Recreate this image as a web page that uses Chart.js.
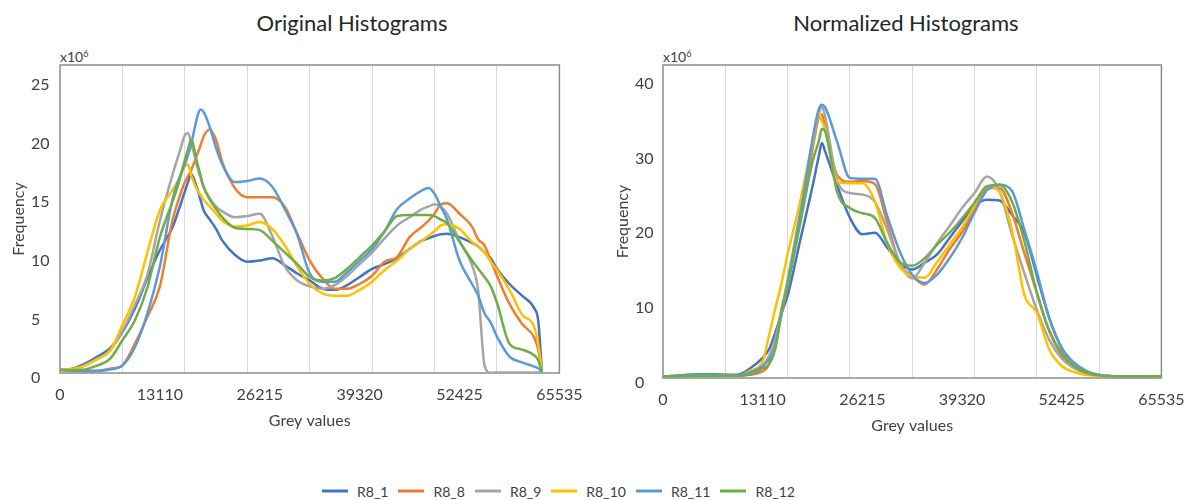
<!DOCTYPE html>
<html><head><meta charset="utf-8">
<script src="https://cdn.jsdelivr.net/npm/chart.js@4.4.1/dist/chart.umd.min.js"></script>
<style>
html,body{margin:0;padding:0;background:#fff;}
body{width:1197px;height:500px;position:relative;overflow:hidden;font-family:Lato,"Open Sans",sans-serif;color:#404040;}
.title{position:absolute;top:22px;transform:translate(-50%,-50%);font-size:22px;color:#262626;white-space:nowrap;}
.exp{position:absolute;top:50px;font-size:14px;line-height:14px;color:#404040;}
.exp sup{font-size:9px;vertical-align:5px;line-height:0;}
#c1{position:absolute;left:0;top:0;}
#c2{position:absolute;left:598px;top:0;}
#legend{position:absolute;left:322px;top:491px;transform:translateY(-50%);display:flex;align-items:center;font-size:14px;color:#404040;white-space:nowrap;}
#legend .sw{display:inline-block;width:26px;height:3px;margin-right:9px;}
#legend .lt{margin-right:10px;}
</style>
</head><body>
<div class="title" style="left:352px">Original Histograms</div>
<div class="title" style="left:906px">Normalized Histograms</div>
<div class="exp" style="left:60px">x10<sup>6</sup></div>
<div class="exp" style="left:663px">x10<sup>6</sup></div>
<canvas id="c1" width="595" height="440"></canvas>
<canvas id="c2" width="599" height="440"></canvas>
<div id="legend"></div>
<script>
const seriesNames = ['R8_1','R8_8','R8_9','R8_10','R8_11','R8_12'];
const seriesColors = ['#4472C4','#ED7D31','#A5A5A5','#FFC000','#5B9BD5','#70AD47'];

const xTickValues = [0,13110,26215,39320,52425,65535];
const xTickLabels = ['0','13110','26215','39320','52425','65535'];
const xGridValues = [8192,16384,24576,32768,40960,49152,57344];

const origYTicks = [0,5,10,15,20,25];
const origYLabels = ['0','5','10','15','20','25'];
const normYTicks = [0,10,20,30,40];
const normYLabels = ['0','10','20','30','40'];

// Original histograms (values x10^6)
const origX = [0,1638,3277,4915,6554,8192,9830,11469,13107,14746,15565,16384,16794,17203,18022,18432,18842,19661,20480,21299,22938,24576,26214,27853,29491,31130,32768,34406,36045,37683,39322,40960,42598,44237,45875,47514,48333,49152,49971,50790,52429,54067,54886,55706,56525,57344,58982,60621,62259,62751,63242];
const orig_R8_1  = [0.3,0.37,0.8,1.4,2.1,3.5,5.5,8.1,10.5,12.4,13.9,15.5,16.3,17.0,15.7,14.8,13.9,13.1,12.3,11.3,10.1,9.5,9.6,9.8,9.2,8.5,7.9,7.2,7.1,7.5,8.2,8.9,9.3,9.8,10.6,11.3,11.5,11.7,11.85,11.9,11.6,11.1,10.8,10.3,9.8,8.9,7.6,6.6,5.5,4.5,0.2];
const orig_R8_8  = [0.25,0.2,0.2,0.2,0.37,0.65,2.5,4.8,7.4,13.0,14.8,16.3,16.8,17.3,18.7,19.4,20.2,20.8,19.9,18.0,15.8,15.0,15.0,15.0,14.2,11.9,9.6,8.1,7.2,7.2,7.6,8.3,9.5,9.9,11.6,12.5,13.0,13.6,14.4,14.5,13.6,12.5,11.4,10.9,9.6,8.3,5.9,4.2,3.0,2.0,0.1];
const orig_R8_9  = [0.3,0.3,0.65,1.2,1.9,3.6,5.8,8.4,13.0,16.9,18.6,20.3,20.5,19.7,17.6,16.7,15.9,14.9,14.2,13.8,13.3,13.4,13.6,11.7,9.1,7.9,7.4,7.2,7.5,8.3,9.3,10.3,11.5,12.6,13.3,14.0,14.2,14.4,14.2,13.6,11.3,9.2,7.0,0.65,0.02,0.05,0.05,0.05,0.05,0.05,0.05];
const orig_R8_10 = [0.3,0.35,0.65,1.2,1.9,4.1,6.5,10.3,13.9,15.6,16.5,17.7,17.8,16.9,15.6,15.2,14.8,14.2,13.6,13.0,12.5,12.6,12.9,12.3,10.9,9.1,7.6,6.8,6.6,6.6,7.1,7.8,8.8,9.6,10.6,11.3,11.7,12.1,12.6,12.7,12.3,11.2,10.8,10.3,9.5,8.8,7.1,5.0,3.9,2.5,0.2];
const orig_R8_11 = [0.25,0.2,0.15,0.17,0.3,0.65,2.2,5.1,9.1,14.8,16.5,17.8,18.6,19.5,21.9,22.5,22.3,21.0,19.2,17.8,16.3,16.4,16.6,15.9,14.0,11.8,8.5,7.8,7.8,8.6,9.6,10.6,12.1,14.0,14.9,15.6,15.8,15.3,14.2,13.1,9.6,7.6,6.6,5.1,4.3,3.1,1.4,0.9,0.55,0.4,0.1];
const orig_R8_12 = [0.25,0.25,0.3,0.65,1.2,2.8,4.5,7.3,11.6,14.6,16.2,18.2,19.1,19.9,17.9,16.9,15.9,14.8,14.0,13.3,12.4,12.3,12.2,11.3,10.3,9.3,8.2,7.9,8.1,8.9,9.9,10.9,12.1,13.4,13.5,13.5,13.5,13.4,13.1,12.8,11.2,9.6,8.9,8.2,7.4,6.0,2.5,2.0,1.5,1.1,0.1];

// Normalized histograms (values x10^6)
const normX = [0,1638,3277,4915,6554,8192,9830,11469,13107,13926,14746,15565,16384,18022,19661,20480,20890,21299,22938,24576,26214,27853,29491,31130,32768,34406,36045,37683,39322,40960,42598,44237,45875,47514,49152,50790,52429,54067,55706,57344,58982,62259,65535];
const norm_R8_1  = [0.2,0.3,0.45,0.5,0.5,0.45,0.45,1.3,2.7,3.8,6.0,8.6,11.0,18.3,25.6,29.6,31.4,30.3,25.6,21.4,19.2,19.4,17.4,15.4,14.5,15.4,16.5,18.7,20.9,23.0,23.8,23.7,21.8,19.4,13.7,8.0,4.0,2.0,0.9,0.4,0.25,0.2,0.2];
const norm_R8_8  = [0.2,0.25,0.3,0.35,0.35,0.3,0.3,0.45,0.9,1.8,4.9,8.5,12.3,21.2,30.5,34.8,35.2,33.6,27.0,26.2,26.3,25.9,20.7,15.3,13.6,12.5,14.5,17.2,19.5,22.5,25.2,25.4,22.1,16.7,11.4,6.3,3.0,1.4,0.6,0.35,0.25,0.2,0.2];
const norm_R8_9  = [0.2,0.25,0.3,0.35,0.35,0.3,0.3,0.65,1.6,2.9,5.1,9.1,13.1,22.1,31.2,35.2,36.3,35.0,26.3,24.7,24.5,23.5,19.8,15.5,13.3,15.4,18.0,20.3,22.7,24.7,26.9,25.0,19.2,14.0,9.1,5.1,2.6,1.3,0.6,0.35,0.25,0.2,0.2];
const norm_R8_10 = [0.2,0.25,0.3,0.35,0.35,0.3,0.3,1.0,2.2,5.6,9.2,12.6,16.5,23.5,31.6,35.4,34.3,33.3,26.2,26.0,26.0,23.6,18.0,14.8,13.6,13.4,15.5,17.8,20.1,23.0,25.6,24.8,19.8,11.1,8.7,3.8,1.6,0.8,0.4,0.3,0.2,0.2,0.2];
const norm_R8_11 = [0.2,0.3,0.4,0.45,0.45,0.4,0.35,0.75,1.6,2.5,4.1,8.4,12.6,21.6,31.9,35.9,36.5,36.2,31.4,26.7,26.6,26.6,21.6,16.9,13.8,12.7,13.8,16.0,18.7,22.1,25.1,25.8,25.0,19.8,14.2,8.0,4.0,2.0,0.9,0.4,0.25,0.2,0.2];
const norm_R8_12 = [0.2,0.2,0.25,0.3,0.3,0.3,0.3,0.45,1.3,1.8,3.8,9.0,12.3,20.5,28.9,31.6,33.3,33.0,24.7,22.7,22.0,21.4,18.0,15.5,15.0,16.0,17.8,19.4,21.3,23.4,25.6,25.8,23.6,18.3,11.4,6.3,3.3,1.6,0.7,0.35,0.25,0.2,0.2];

const origSeries = [orig_R8_1, orig_R8_8, orig_R8_9, orig_R8_10, orig_R8_11, orig_R8_12];
const normSeries = [norm_R8_1, norm_R8_8, norm_R8_9, norm_R8_10, norm_R8_11, norm_R8_12];

const FONT = 'Lato';
Chart.defaults.font.family = FONT;

const framePlugin = {
  id: 'frame',
  beforeDatasetsDraw(chart) {
    const {ctx, chartArea: a} = chart;
    ctx.save();
    ctx.strokeStyle = '#8c8c8c';
    ctx.lineWidth = 1.5;
    ctx.strokeRect(a.left, a.top, a.right - a.left, a.bottom - a.top);
    ctx.restore();
  }
};

const allXTicks = xTickValues.concat(xGridValues).sort((a, b) => a - b);

function makeChart(id, xs, series, yMax, yTicks, yLabels, cfg) {
  const datasets = seriesNames.map((name, i) => ({
    label: name,
    data: xs.map((x, j) => ({x: x, y: series[i][j]})),
    borderColor: seriesColors[i],
    backgroundColor: seriesColors[i],
    borderWidth: 2.5,
    pointRadius: 0,
    fill: false,
    cubicInterpolationMode: 'monotone',
    order: seriesNames.length - i
  }));
  return new Chart(document.getElementById(id), {
    type: 'line',
    data: {datasets},
    options: {
      responsive: false,
      animation: false,
      devicePixelRatio: 1,
      layout: {autoPadding: false, padding: {left: cfg.padLeft, top: 65, right: cfg.padRight, bottom: 0}},
      plugins: {legend: {display: false}, tooltip: {enabled: false}, title: {display: false}},
      scales: {
        x: {
          type: 'linear', min: 0, max: 65535,
          afterBuildTicks: ax => { ax.ticks = allXTicks.map(v => ({value: v})); },
          afterFit: s => { s.height = cfg.xHeight; },
          grid: {
            drawTicks: false, lineWidth: 1,
            color: c => (c.tick && xGridValues.indexOf(c.tick.value) >= 0) ? '#d9d9d9' : 'rgba(0,0,0,0)'
          },
          border: {display: false},
          ticks: {
            autoSkip: false, maxRotation: 0, minRotation: 0, padding: 12.4,
            color: '#404040', font: {family: FONT, size: 16},
            callback: v => { const i = xTickValues.indexOf(v); return i >= 0 ? xTickLabels[i] : ''; }
          },
          title: {display: true, text: 'Grey values', color: '#404040', font: {family: FONT, size: 16},
                  padding: {top: 0, bottom: cfg.xTitlePad}}
        },
        y: {
          type: 'linear', min: 0, max: yMax,
          afterBuildTicks: ax => { ax.ticks = yTicks.map(v => ({value: v})); },
          afterFit: s => { s.width = cfg.yWidth; },
          grid: {display: false, drawTicks: false},
          border: {display: false},
          ticks: {
            crossAlign: 'far', padding: 8, labelOffset: 5,
            color: '#404040', font: {family: FONT, size: 16},
            callback: v => { const i = yTicks.indexOf(v); return i >= 0 ? yLabels[i] : ''; }
          },
          title: {display: true, text: 'Frequency', color: '#404040', font: {family: FONT, size: 16},
                  padding: {top: cfg.yTitlePad, bottom: 0}}
        }
      }
    },
    plugins: [framePlugin]
  });
}

makeChart('c1', origX, origSeries, 26.3, origYTicks, origYLabels,
  {padLeft: 31, padRight: 35, xHeight: 67, xTitlePad: 9.4, yWidth: 29, yTitlePad: -21.6});
makeChart('c2', normX, normSeries, 41.8, normYTicks, normYLabels,
  {padLeft: 37, padRight: 32, xHeight: 62, xTitlePad: 4.4, yWidth: 28, yTitlePad: -22.1});

const legend = document.getElementById('legend');
seriesNames.forEach((name, i) => {
  const sw = document.createElement('span');
  sw.className = 'sw';
  sw.style.background = seriesColors[i];
  const lt = document.createElement('span');
  lt.className = 'lt';
  lt.textContent = name;
  legend.appendChild(sw);
  legend.appendChild(lt);
});
</script>
</body></html>
